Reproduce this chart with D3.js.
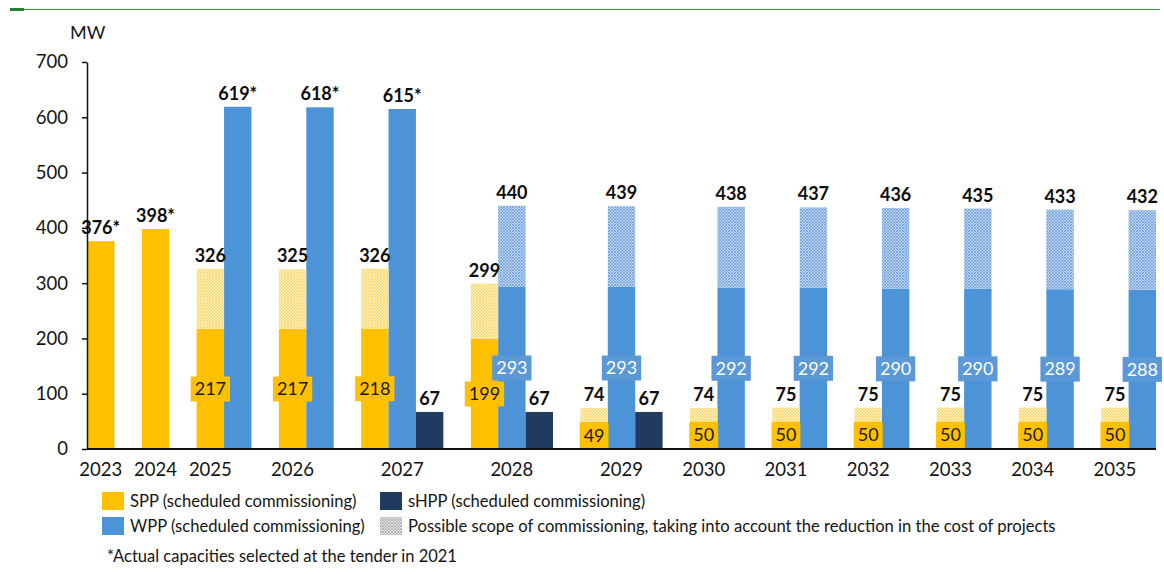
<!DOCTYPE html>
<html>
<head>
<meta charset="utf-8">
<script src="https://cdn.jsdelivr.net/npm/d3@7"></script>
<style>
  html, body { margin: 0; padding: 0; background: #fff; }
  svg { display: block; font-family: Lato, "Open Sans", "Liberation Sans", sans-serif; }
</style>
</head>
<body>
<svg id="chart" width="1164" height="574"></svg>
<script>
// Commissioning of renewable capacity by year, MW
const years = [2023, 2024, 2025, 2026, 2027, 2028, 2029, 2030, 2031, 2032, 2033, 2034, 2035];

// Solar (SPP): total incl. possible extra scope, and scheduled part
const sppTotal     = [376, 398, 326, 325, 326, 299, 74, 74, 75, 75, 75, 75, 75];
const sppScheduled = [376, 398, 217, 217, 218, 199, 49, 50, 50, 50, 50, 50, 50];
const sppTender    = [true, true, false, false, false, false, false, false, false, false, false, false, false];

// Wind (WPP)
const wppTotal     = [0, 0, 619, 618, 615, 440, 439, 438, 437, 436, 435, 433, 432];
const wppScheduled = [0, 0, 619, 618, 615, 293, 293, 292, 292, 290, 290, 289, 288];
const wppTender    = [false, false, true, true, true, false, false, false, false, false, false, false, false];

// Small hydro (sHPP)
const shppScheduled = [0, 0, 0, 0, 67, 67, 67, 0, 0, 0, 0, 0, 0];

const yTicks = [0, 100, 200, 300, 400, 500, 600, 700];

const legendItems = [
  { key: "SPP",   label: "SPP (scheduled commissioning)" },
  { key: "sHPP",  label: "sHPP (scheduled commissioning)" },
  { key: "WPP",   label: "WPP (scheduled commissioning)" },
  { key: "scope", label: "Possible scope of commissioning, taking into account the reduction in the cost of projects" }
];
const footnote = "*Actual capacities selected at the tender in 2021";
const unitLabel = "MW";

// ---- styling ----
const colors = { SPP: "#FFC000", WPP: "#4C93D7", sHPP: "#213A5F" };
const innerBox = { SPP: "#FFC000", WPP: "#5A98D8" };
const innerText = { SPP: "#1b1b1b", WPP: "#ffffff" };
const textColor = "#141414";

const svg = d3.select("#chart");
const plot = { left: 87, right: 1156, top: 62, bottom: 449 };

// hatch patterns for the "possible scope" parts
const defs = svg.append("defs");
function hatch(id, bg, line) {
  const p = defs.append("pattern")
    .attr("id", id).attr("patternUnits", "userSpaceOnUse")
    .attr("width", 3).attr("height", 3);
  p.append("rect").attr("width", 3).attr("height", 3).attr("fill", bg);
  p.append("path")
    .attr("d", "M0,3L3,0M-1,1L1,-1M2,4L4,2M0,0L3,3M-1,2L1,4M2,-1L4,1")
    .attr("stroke", line).attr("stroke-width", 0.7).attr("fill", "none");
}
hatch("hatch-SPP", "#FFF1C4", "#F9D357");
hatch("hatch-WPP", "#BCD2EF", "#6A9EDA");
hatch("hatch-scope", "#E6E6E6", "#A0A0A0");

// ---- build slots: one per bar, plus a spacer between years ----
const slots = [];
const labelSlot = {};
years.forEach((yr, i) => {
  const present = [];
  if (sppTotal[i] > 0) present.push({ key: "SPP", total: sppTotal[i], firm: sppScheduled[i], tender: sppTender[i] });
  if (wppTotal[i] > 0) present.push({ key: "WPP", total: wppTotal[i], firm: wppScheduled[i], tender: wppTender[i] });
  if (shppScheduled[i] > 0) present.push({ key: "sHPP", total: shppScheduled[i], firm: shppScheduled[i], tender: false });
  present.forEach(p => slots.push(Object.assign({ id: yr + "-" + p.key, year: yr }, p)));
  labelSlot[yr] = yr + "-" + present[Math.floor((present.length - 1) / 2)].key;
  if (i < years.length - 1) slots.push({ id: yr + "-gap", gap: true });
});

const x = d3.scaleBand().domain(slots.map(d => d.id)).range([plot.left, plot.right]).padding(0);
const y = d3.scaleLinear().domain([0, 700]).range([plot.bottom, plot.top]);

const bars = slots.filter(d => !d.gap);

// top green rule
svg.append("line").attr("x1", 10).attr("x2", 1160).attr("y1", 9.5).attr("y2", 9.5)
  .attr("stroke", "#3A8A3C").attr("stroke-width", 1.2);
svg.append("rect").attr("x", 10).attr("y", 8).attr("width", 14).attr("height", 3).attr("fill", "#2E7D32");

// bars
const g = svg.append("g");
g.selectAll("rect.firm").data(bars).join("rect")
  .attr("class", "firm")
  .attr("x", d => x(d.id)).attr("width", x.bandwidth())
  .attr("y", d => y(d.firm)).attr("height", d => y(0) - y(d.firm))
  .attr("fill", d => colors[d.key]);

g.selectAll("rect.scope").data(bars.filter(d => d.total > d.firm)).join("rect")
  .attr("class", "scope")
  .attr("x", d => x(d.id)).attr("width", x.bandwidth())
  .attr("y", d => y(d.total)).attr("height", d => y(d.firm) - y(d.total))
  .attr("fill", d => "url(#hatch-" + d.key + ")");

// y axis
const yAxis = d3.axisLeft(y).tickValues(yTicks).tickSize(5).tickSizeOuter(0).tickPadding(14);
const ya = svg.append("g").attr("transform", `translate(${plot.left},0)`).call(yAxis);
ya.select(".domain").attr("stroke", "#111").attr("stroke-width", 1.5);
ya.selectAll(".tick line").attr("stroke", "#111").attr("stroke-width", 1.5);
ya.selectAll(".tick text").attr("font-size", 18.5).attr("fill", textColor)
  .attr("font-family", "Lato, 'Open Sans', sans-serif");

svg.append("text").attr("x", 70).attr("y", 39).attr("font-size", 18).attr("fill", textColor)
  .text(unitLabel);

// x axis baseline and year labels
svg.append("line").attr("x1", plot.left).attr("x2", plot.right)
  .attr("y1", y(0)).attr("y2", y(0)).attr("stroke", "#111").attr("stroke-width", 1.8);

svg.append("g").selectAll("text").data(years).join("text")
  .attr("x", yr => x(labelSlot[yr]) + x.bandwidth() / 2)
  .attr("y", 476)
  .attr("text-anchor", "middle").attr("font-size", 18.5).attr("fill", textColor)
  .text(yr => yr);

// total labels above bars
svg.append("g").selectAll("text").data(bars).join("text")
  .attr("x", d => x(d.id) + x.bandwidth() / 2)
  .attr("y", d => y(d.total) - 7)
  .attr("text-anchor", "middle").attr("font-size", 18).attr("font-weight", 700)
  .attr("fill", "#0d0d0d")
  .text(d => d.total + (d.tender ? "*" : ""));

// scheduled-value labels inside the solid part
const inner = svg.append("g").selectAll("g").data(bars.filter(d => d.total > d.firm)).join("g")
  .attr("transform", d => `translate(${x(d.id) + x.bandwidth() / 2},${y(d.firm / 2)})`);
inner.append("rect")
  .attr("x", -19).attr("y", -12.5).attr("width", 38).attr("height", 25)
  .attr("fill", d => innerBox[d.key]);
inner.append("text")
  .attr("text-anchor", "middle").attr("dy", "0.35em")
  .attr("font-size", 18).attr("fill", d => innerText[d.key])
  .text(d => d.firm);
inner.each(function () {
  const t = d3.select(this).select("text").node();
  const w = t.getComputedTextLength() + 8;
  d3.select(this).select("rect").attr("x", -w / 2).attr("width", w);
});

// legend
const legendPos = [
  { x: 102, y: 492 }, { x: 380, y: 492 },
  { x: 102, y: 517 }, { x: 380, y: 517 }
];
const lg = svg.append("g").selectAll("g").data(legendItems).join("g")
  .attr("transform", (d, i) => `translate(${legendPos[i].x},${legendPos[i].y})`);
lg.append("rect").attr("width", 22).attr("height", 18)
  .attr("fill", d => d.key === "scope" ? "url(#hatch-scope)" : colors[d.key]);
lg.append("text").attr("x", 28).attr("y", 15).attr("font-size", 16.6).attr("fill", textColor)
  .text(d => d.label);

svg.append("text").attr("x", 107).attr("y", 562).attr("font-size", 16.5).attr("fill", textColor)
  .text(footnote);
</script>
</body>
</html>
